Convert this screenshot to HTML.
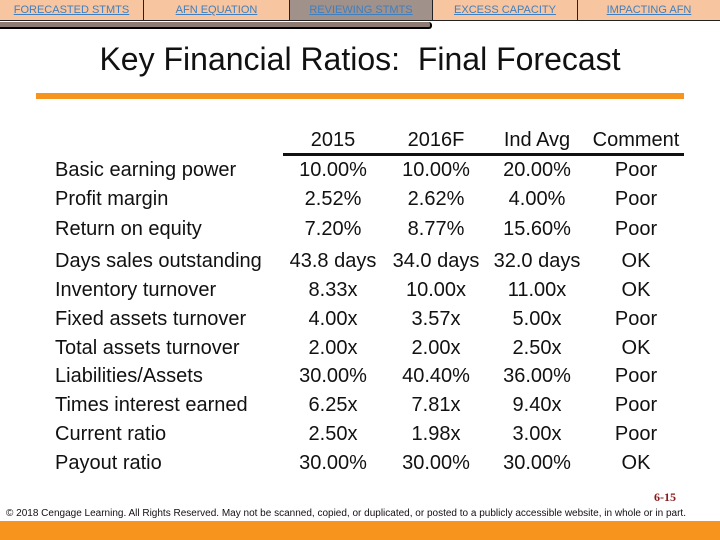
<!DOCTYPE html>
<html><head><meta charset="utf-8"><style>
body{margin:0;width:720px;height:540px;position:relative;overflow:hidden;background:#fff;font-family:"Liberation Sans",Arial,sans-serif}
.tab{position:absolute;top:0;height:20px;background:#f7c6a0;border-right:1px solid #222;border-bottom:1px solid #222;color:#3f7fc0;font-size:11px;line-height:21px;text-align:center;text-decoration:underline}
.t{position:absolute;font-size:20px;color:#111;white-space:nowrap}
.c{transform:translateX(-50%)}
</style></head><body>
<div class="tab" style="left:0;width:143px">FORECASTED STMTS</div>
<div class="tab" style="left:144px;width:145px">AFN EQUATION</div>
<div class="tab" style="left:290px;width:142px;background:#a0918a">REVIEWING STMTS</div>
<div class="tab" style="left:433px;width:144px">EXCESS CAPACITY</div>
<div class="tab" style="left:578px;width:142px">IMPACTING AFN</div>
<div style="position:absolute;left:0;top:22px;width:430px;height:5px;background:#8c7b72;border-bottom:2px solid #000;border-right:2px solid #000;border-radius:0 3px 3px 0"></div>
<div style="position:absolute;left:0;width:720px;top:41px;text-align:center;font-size:32px;color:#111">Key Financial Ratios:&nbsp; Final Forecast</div>
<div style="position:absolute;left:36px;top:93px;width:648px;height:6px;background:#f7941d"></div>
<div style="position:absolute;left:283px;top:153px;width:401px;height:3px;background:#111"></div>
<div id="tbl"></div>
<div style="position:absolute;left:654px;top:490px;font-family:'Liberation Serif',serif;font-weight:bold;font-size:12px;color:#8b1a1a">6-15</div>
<div style="position:absolute;left:6px;top:508px;width:700px;font-size:10px;line-height:11px;color:#111">© 2018 Cengage Learning. All Rights Reserved. May not be scanned, copied, or duplicated, or posted to a publicly accessible website, in whole or in part.</div>
<div style="position:absolute;left:0;top:521px;width:720px;height:19px;background:#f7941d"></div>
<script>
const headers=["2015","2016F","Ind Avg","Comment"];
const labels=["Basic earning power","Profit margin","Return on equity","Days sales outstanding","Inventory turnover","Fixed assets turnover","Total assets turnover","Liabilities/Assets","Times interest earned","Current ratio","Payout ratio"];
const col2015=["10.00%","2.52%","7.20%","43.8 days","8.33x","4.00x","2.00x","30.00%","6.25x","2.50x","30.00%"];
const col2016=["10.00%","2.62%","8.77%","34.0 days","10.00x","3.57x","2.00x","40.40%","7.81x","1.98x","30.00%"];
const colInd=["20.00%","4.00%","15.60%","32.0 days","11.00x","5.00x","2.50x","36.00%","9.40x","3.00x","30.00%"];
const colComment=["Poor","Poor","Poor","OK","OK","Poor","OK","Poor","Poor","Poor","OK"];
const rowY=[159,188,218,250,279,308,337,365,394,423,452];
const colX=[333,436,537,636];
const t=document.getElementById('tbl');
function add(txt,x,y,center,name){const d=document.createElement('div');d.className='t'+(center?' c':'');d.style.left=x+'px';d.style.top=y+'px';d.textContent=txt;


t.appendChild(d);}
headers.forEach((h,i)=>add(h,colX[i],129,true,'column-header'));
const cols=[col2015,col2016,colInd,colComment];
labels.forEach((l,r)=>{add(l,55,rowY[r],false,'row-label');cols.forEach((c,i)=>add(c[r],colX[i],rowY[r],true,'cell-value'));});
</script>
</body></html>
